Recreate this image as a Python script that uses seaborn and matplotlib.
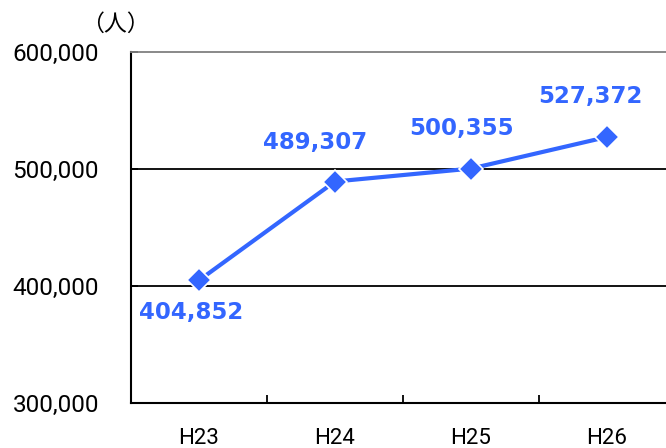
import matplotlib
matplotlib.use("Agg")
import matplotlib.pyplot as plt
import seaborn as sns
import pandas as pd
from matplotlib.ticker import FixedLocator, FuncFormatter

years = ["H23", "H24", "H25", "H26"]
visitors = [404852, 489307, 500355, 527372]
y_ticks = [300000, 400000, 500000, 600000]
# label offsets (points) relative to each marker
label_dx = [-6, -14, -7, -12]
label_dy = [-23, 28, 29, 29]

sns.set_theme(style="white")
plt.rcParams["font.family"] = ["Roboto", "DejaVu Sans"]

blue = "#3366ff"
df = pd.DataFrame({"year": years, "visitors": visitors})
df["pos"] = range(len(years))

fig = plt.figure(figsize=(6.66, 4.48), dpi=100)
ax = fig.add_axes([131 / 666, 45 / 448, 544 / 666, 351 / 448])

for v in (400000, 500000):
    ax.axhline(v, color="black", lw=1.3, zorder=1)

sns.lineplot(data=df, x="pos", y="visitors", ax=ax, color=blue, lw=3.0,
             marker="D", markersize=12.5, markeredgecolor="white",
             markeredgewidth=1.2, zorder=3)

for i, v in enumerate(visitors):
    ax.annotate(f"{v:,}", (i, v), xytext=(label_dx[i], label_dy[i]),
                textcoords="offset points", ha="center", va="center",
                fontsize=16.5, fontweight="bold", color=blue,
                family="DejaVu Sans", zorder=4)

ax.set_xlim(-0.5, 3.5)
ax.set_ylim(300000, 600000)
ax.yaxis.set_major_locator(FixedLocator(y_ticks))
ax.yaxis.set_major_formatter(FuncFormatter(lambda v, p: f"{int(v):,}"))
ax.set_xticks([0.5, 1.5, 2.5])
ax.set_xticklabels([])
ax.set_xticks(range(len(years)), minor=True)
ax.set_xticklabels(years, minor=True)
ax.tick_params(axis="x", which="major", direction="in", length=6, width=1.3,
               color="black", bottom=True)
ax.tick_params(axis="x", which="minor", length=0, pad=18, labelsize=16,
               labelcolor="black")
ax.tick_params(axis="y", direction="in", length=5, width=1.3, left=True,
               color="black", pad=23, labelsize=17.5, labelcolor="black")
ax.set_xlabel("")
ax.set_ylabel("")
ax.legend_ = None

for side in ("left", "bottom"):
    ax.spines[side].set_color("black")
    ax.spines[side].set_linewidth(1.5)
ax.spines["top"].set_color("#808080")
ax.spines["top"].set_linewidth(1.3)
ax.spines["right"].set_visible(False)
ax.grid(False)

fig.text(115 / 666, 1 - 24 / 448, "（人）", ha="center", va="center",
         fontsize=16.5, color="black", family=["Noto Sans CJK JP", "DejaVu Sans"])

fig.savefig("out.png", dpi=100)
